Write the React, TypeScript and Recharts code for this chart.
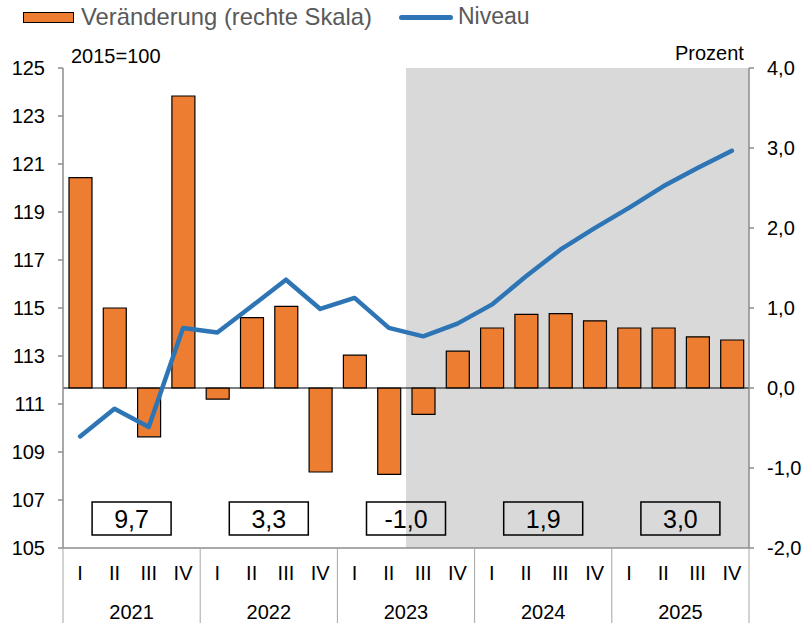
import React from "react";
import {
  Bar,
  ComposedChart,
  Line,
  ReferenceArea,
  ReferenceLine,
  XAxis,
  YAxis,
} from "recharts";

const QUARTERS = ["I", "II", "III", "IV"];
const YEARS = [2021, 2022, 2023, 2024, 2025];

// Veränderung gegenüber Vorquartal (rechte Skala), Prozent
const CHANGE = [
  2.63, 1.0, -0.61, 3.65,
  -0.14, 0.88, 1.02, -1.05,
  0.41, -1.08, -0.33, 0.46,
  0.75, 0.92, 0.93, 0.84,
  0.75, 0.75, 0.64, 0.6,
];

// Niveau, 2015=100
const LEVEL = [
  109.65, 110.8, 110.04, 114.17,
  113.98, 115.07, 116.18, 114.96,
  115.42, 114.17, 113.82, 114.35,
  115.14, 116.32, 117.43, 118.33,
  119.17, 120.07, 120.83, 121.55,
];

// Jahresveränderung in Prozent
const ANNUAL = [9.7, 3.3, -1.0, 1.9, 3.0];

const LEFT_TICKS = [105, 107, 109, 111, 113, 115, 117, 119, 121, 123, 125];
const RIGHT_TICKS = [-2, -1, 0, 1, 2, 3, 4];

const FORECAST_FROM = "2023-III";

const data = YEARS.flatMap((yr, yi) =>
  QUARTERS.map((q, qi) => ({
    id: `${yr}-${q}`,
    change: CHANGE[yi * 4 + qi],
    level: LEVEL[yi * 4 + qi],
  }))
);

const FONT = "'Liberation Sans', Arial, sans-serif";
const AXIS_GREY = "#8c8c8c";
const fmt = (v: number) => v.toFixed(1).replace(".", ",");

function QuarterTick(props: any) {
  const { x, y, payload, index } = props;
  const half = payload?.offset ?? 17.15;
  const [yr, q] = String(payload.value).split("-");
  const yi = Math.floor(index / 4);
  const first = index % 4 === 0;
  const last = index === data.length - 1;
  const mid = x + 3 * half;
  return (
    <g>
      <text x={x} y={y + 32} textAnchor="middle" fontSize={20} fill="#000" fontFamily={FONT}>
        {q}
      </text>
      {first && (
        <>
          <line x1={x - half} x2={x - half} y1={y} y2={y + 75} stroke="#a6a6a6" />
          <text x={mid} y={y + 71} textAnchor="middle" fontSize={20} fill="#000" fontFamily={FONT}>
            {yr}
          </text>
          <rect x={mid - 39.5} y={y - 46} width={79} height={33} fill="none" stroke="#000" strokeWidth={1.5} />
          <text x={mid} y={y - 20} textAnchor="middle" fontSize={25} fill="#000" fontFamily={FONT}>
            {fmt(ANNUAL[yi])}
          </text>
        </>
      )}
      {last && <line x1={x + half} x2={x + half} y1={y} y2={y + 75} stroke="#a6a6a6" />}
    </g>
  );
}

export default function App() {
  return (
    <div
      style={{
        position: "absolute",
        left: 0,
        top: 0,
        width: 807,
        height: 623,
        background: "#fff",
        fontFamily: FONT,
      }}
    >
      <div style={{ position: "absolute", left: 23, top: 12, width: 49, height: 9, background: "#ED7D31", border: "1.5px solid #000" }} />
      <div style={{ position: "absolute", left: 81, top: 3, fontSize: 23.8, color: "#595959", whiteSpace: "nowrap" }}>
        Veränderung (rechte Skala)
      </div>
      <div style={{ position: "absolute", left: 399, top: 15, width: 54, height: 5, borderRadius: 3, background: "#2E75B6" }} />
      <div style={{ position: "absolute", left: 458, top: 3, fontSize: 23, color: "#595959" }}>Niveau</div>
      <div style={{ position: "absolute", left: 71, top: 45, fontSize: 20, color: "#000" }}>2015=100</div>
      <div style={{ position: "absolute", left: 675, top: 42, fontSize: 20, color: "#000" }}>Prozent</div>

      <ComposedChart
        width={807}
        height={623}
        data={data}
        margin={{ top: 68, right: 0, bottom: 0, left: 0 }}
        barSize={23}
      >
        <ReferenceArea
          x1={FORECAST_FROM}
          x2={data[data.length - 1].id}
          yAxisId="left"
          fill="#d9d9d9"
          fillOpacity={1}
          stroke="none"
        />
        <Bar
          dataKey="change"
          yAxisId="right"
          fill="#ED7D31"
          stroke="#000"
          strokeWidth={1.2}
          isAnimationActive={false}
        />
        <ReferenceLine y={0} yAxisId="right" stroke="#000" strokeWidth={1.2} />
        <Line
          dataKey="level"
          yAxisId="left"
          stroke="#2E75B6"
          strokeWidth={4.5}
          strokeLinejoin="round"
          strokeLinecap="round"
          dot={false}
          isAnimationActive={false}
        />
        <XAxis
          dataKey="id"
          interval={0}
          height={75}
          tickSize={0}
          tickMargin={0}
          tickLine={false}
          axisLine={{ stroke: AXIS_GREY, strokeWidth: 1.5 }}
          tick={<QuarterTick />}
        />
        <YAxis
          yAxisId="left"
          orientation="left"
          width={63}
          domain={[105, 125]}
          ticks={LEFT_TICKS}
          interval={0}
          tickSize={5}
          tickMargin={13}
          axisLine={{ stroke: AXIS_GREY, strokeWidth: 1.5 }}
          tickLine={{ stroke: AXIS_GREY, strokeWidth: 1.5 }}
          tick={{ fontSize: 20, fill: "#000", fontFamily: FONT }}
        />
        <YAxis
          yAxisId="right"
          orientation="right"
          width={58}
          domain={[-2, 4]}
          ticks={RIGHT_TICKS}
          interval={0}
          tickSize={5}
          tickMargin={13}
          tickFormatter={fmt}
          axisLine={{ stroke: AXIS_GREY, strokeWidth: 1.5 }}
          tickLine={{ stroke: AXIS_GREY, strokeWidth: 1.5 }}
          tick={{ fontSize: 20, fill: "#000", fontFamily: FONT, textAnchor: "start" }}
        />
      </ComposedChart>
    </div>
  );
}
